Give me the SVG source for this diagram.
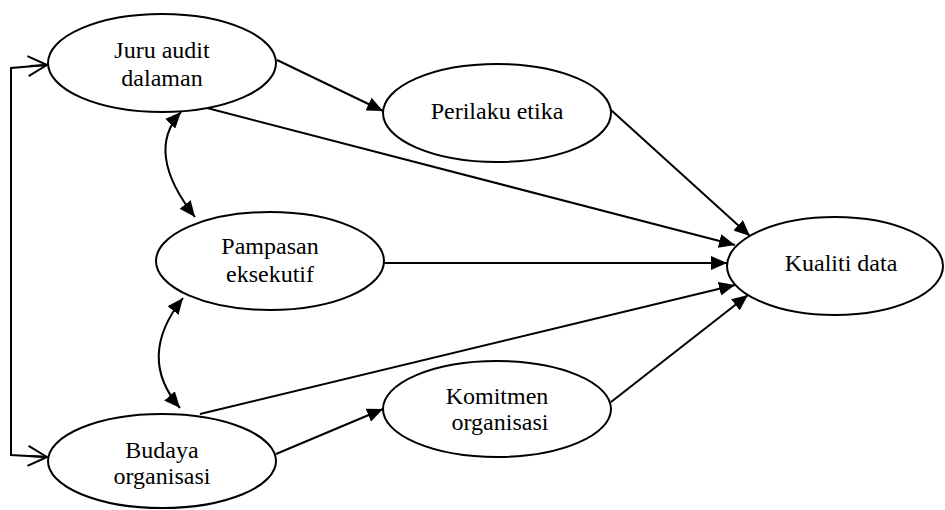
<svg xmlns="http://www.w3.org/2000/svg" width="945" height="510" viewBox="0 0 945 510">
  <style>
    .node ellipse { fill: #ffffff; stroke: #000000; stroke-width: 2; }
    .node text { font-family: "Liberation Serif", "Times New Roman", serif; font-size: 24px; fill: #000000; text-anchor: middle; }
    .edge { fill: none; stroke: #000000; stroke-width: 2; }
    .arrow { marker-end: url(#solid); }
    .both { marker-start: url(#solid); marker-end: url(#solid); }
    .open { marker-end: url(#open); }
  </style>
  <defs>
    <marker id="solid" markerUnits="userSpaceOnUse" markerWidth="16" markerHeight="14" refX="16" refY="7" orient="auto-start-reverse">
      <path d="M0,0 L16,7 L0,14 Z" fill="#000000"/>
    </marker>
    <marker id="open" markerUnits="userSpaceOnUse" markerWidth="22" markerHeight="24" refX="20" refY="12" orient="auto">
      <path d="M1,2 L20,12 L1,22" fill="none" stroke="#000000" stroke-width="2"/>
    </marker>
  </defs>

  <rect width="945" height="510" fill="#ffffff"/>

  <g id="connectors">
    <!-- correlations bracket on the left -->
    <path class="edge" d="M47,65 L11,68 L11,455 L46,457"/>
    <path class="edge open" d="M30,66 L47,65"/>
    <path class="edge open" d="M30,456 L47,457"/>
    <!-- curved two-headed correlations -->
    <path class="edge both" d="M181,112 Q144,152 195,217"/>
    <path class="edge both" d="M183,298 Q136,357 180,408"/>
    <!-- direct paths -->
    <line class="edge arrow" x1="277" y1="60" x2="383" y2="111"/>
    <line class="edge arrow" x1="207" y1="108" x2="735" y2="245"/>
    <line class="edge arrow" x1="611" y1="110" x2="750" y2="236"/>
    <line class="edge arrow" x1="384" y1="263" x2="727" y2="263"/>
    <line class="edge arrow" x1="200" y1="414" x2="735" y2="285"/>
    <line class="edge arrow" x1="611" y1="402" x2="748" y2="295"/>
    <line class="edge arrow" x1="276" y1="454" x2="383" y2="409"/>
  </g>

  <g id="juru-audit" class="node">
    <ellipse cx="162" cy="63" rx="114" ry="49"/>
    <text x="162" y="58">Juru audit</text>
    <text x="162" y="86">dalaman</text>
  </g>

  <g id="perilaku-etika" class="node">
    <ellipse cx="497" cy="113" rx="114" ry="49"/>
    <text x="497" y="119">Perilaku etika</text>
  </g>

  <g id="pampasan" class="node">
    <ellipse cx="270" cy="261" rx="114" ry="49"/>
    <text x="270" y="254">Pampasan</text>
    <text x="270" y="282">eksekutif</text>
  </g>

  <g id="kualiti-data" class="node">
    <ellipse cx="835" cy="266" rx="108" ry="49"/>
    <text x="841" y="271">Kualiti data</text>
  </g>

  <g id="komitmen" class="node">
    <ellipse cx="497" cy="409" rx="114" ry="48"/>
    <text x="497" y="404">Komitmen</text>
    <text x="500" y="430">organisasi</text>
  </g>

  <g id="budaya" class="node">
    <ellipse cx="162" cy="461" rx="114" ry="47"/>
    <text x="162" y="458">Budaya</text>
    <text x="162" y="484">organisasi</text>
  </g>
</svg>
